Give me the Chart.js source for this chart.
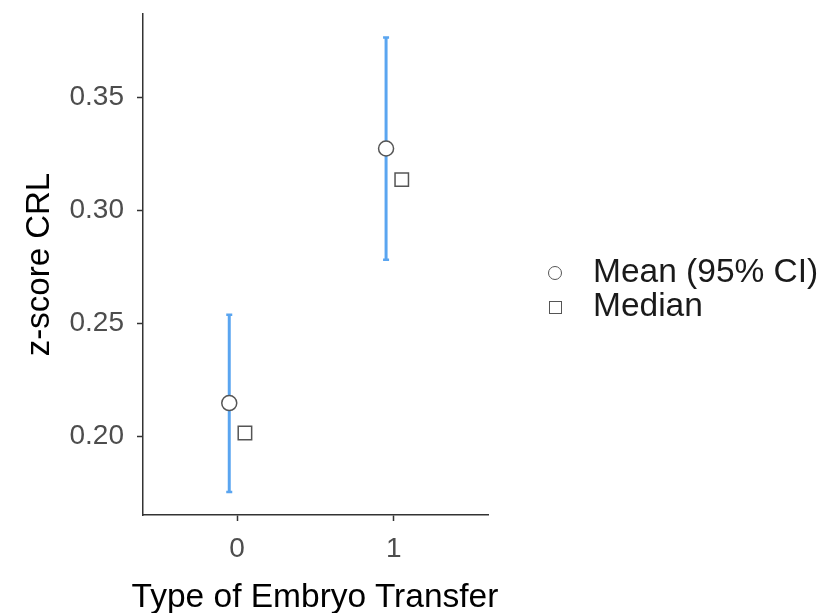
<!DOCTYPE html>
<html>
<head>
<meta charset="utf-8">
<script src="https://cdn.jsdelivr.net/npm/chart.js@4/dist/chart.umd.min.js"></script>
<style>
  html, body { margin: 0; padding: 0; background: #fff; }
  #wrap { position: relative; width: 822px; height: 613px; font-family: "Liberation Sans", Arial, sans-serif; }
  .leg { position: absolute; left: 544px; font-size: 33.5px; color: #1a1a1a; line-height: 34px; white-space: nowrap; }
  .key { display: inline-block; box-sizing: border-box; border: 1.5px solid #555; background: #fff;
         vertical-align: middle; }
  .key.circ { width: 14px; height: 14px; border-radius: 50%; margin-left: 4px; margin-right: 31px; }
  .key.sq { width: 13px; height: 13px; margin-left: 5px; margin-right: 31px; }
  #xtitle { position: absolute; left: 0; width: 630px; text-align: center; top: 578px;
            font-size: 33.5px; line-height: 36px; color: #000; white-space: nowrap; }
</style>
</head>
<body>
<div id="wrap">
  <canvas id="myChart" width="822" height="613"></canvas>
  <div id="xtitle">Type of Embryo Transfer</div>
  <div class="leg" style="top:254px"><span class="key circ"></span>Mean (95% CI)</div>
  <div class="leg" style="top:288px"><span class="key sq"></span>Median</div>
</div>
<script>
// groups on the x axis
var categories = [0, 1];
var xTickLabels = ['0', '1'];
var yTickValues = [0.20, 0.25, 0.30, 0.35];

// values
var meanVals = [0.2146, 0.3274];
var ciLow = [0.1752, 0.2781];
var ciHigh = [0.2537, 0.3766];
var medianVals = [0.2013, 0.3136];

var dodge = 0.05;
var ciColor = '#5aa5f0';

function makePoints(vals, shift) {
    var pts = [];
    for (var i = 0; i < categories.length; i++) {
        pts.push({x: categories[i] + shift, y: vals[i]});
    }
    return pts;
}

// draws the 95% CI bars under the mean markers
var errorBars = {
    id: 'errorBars',
    beforeDatasetsDraw: function(chart) {
        var ctx = chart.ctx;
        var xs = chart.scales.x, ys = chart.scales.y;
        ctx.save();
        ctx.strokeStyle = ciColor;
        for (var i = 0; i < categories.length; i++) {
            var px = xs.getPixelForValue(categories[i] - dodge);
            var top = ys.getPixelForValue(ciHigh[i]);
            var bot = ys.getPixelForValue(ciLow[i]);
            ctx.lineWidth = 3;
            ctx.beginPath();
            ctx.moveTo(px, top);
            ctx.lineTo(px, bot);
            ctx.stroke();
            ctx.lineWidth = 2.5;
            ctx.beginPath();
            ctx.moveTo(px - 3, top); ctx.lineTo(px + 3, top);
            ctx.moveTo(px - 3, bot); ctx.lineTo(px + 3, bot);
            ctx.stroke();
        }
        ctx.restore();
    }
};

var fontFam = '"Liberation Sans", Arial, sans-serif';

var myChart = new Chart('myChart', {
    type: 'scatter',
    data: {
        datasets: [{
            label: 'Mean (95% CI)',
            data: makePoints(meanVals, -dodge),
            pointStyle: 'circle',
            pointRadius: 7.5,
            pointBorderWidth: 1.5,
            borderColor: '#555',
            backgroundColor: '#fff'
        }, {
            label: 'Median',
            data: makePoints(medianVals, dodge),
            pointStyle: 'rect',
            pointRadius: 9.5,
            pointBorderWidth: 1.5,
            borderColor: '#555',
            backgroundColor: '#fff'
        }]
    },
    options: {
        responsive: false,
        animation: false,
        layout: { padding: { top: 14, right: 334, left: 0, bottom: 0 } },
        plugins: { legend: { display: false }, tooltip: { enabled: false } },
        scales: {
            x: {
                type: 'linear',
                min: -0.6,
                max: 1.6,
                afterBuildTicks: function(axis) {
                    axis.ticks = categories.map(function(c) { return {value: c}; });
                },
                afterFit: function(axis) {
                    axis.height = 98;
                    axis.paddingLeft = 0;
                    axis.paddingRight = 0;
                },
                grid: { drawOnChartArea: false, drawTicks: true, tickLength: 6, tickColor: '#333', tickWidth: 1.5 },
                border: { display: true, color: '#333', width: 1.5 },
                ticks: {
                    padding: 11,
                    color: '#4d4d4d',
                    font: { family: fontFam, size: 28 },
                    callback: function(v) { return xTickLabels[categories.indexOf(v)]; }
                },
                title: { display: false }
            },
            y: {
                min: 0.165,
                max: 0.387,
                afterBuildTicks: function(axis) {
                    axis.ticks = yTickValues.map(function(v) { return {value: v}; });
                },
                afterFit: function(axis) {
                    axis.width = 143;
                    axis.paddingTop = 0;
                    axis.paddingBottom = 0;
                },
                grid: { drawOnChartArea: false, drawTicks: true, tickLength: 6, tickColor: '#333', tickWidth: 1.5 },
                border: { display: true, color: '#333', width: 1.5 },
                ticks: {
                    padding: 13,
                    color: '#4d4d4d',
                    font: { family: fontFam, size: 28 },
                    callback: function(v) { return v.toFixed(2); }
                },
                title: {
                    display: true,
                    text: 'z-score CRL',
                    color: '#000',
                    font: { family: fontFam, size: 33, lineHeight: 1 },
                    padding: { top: 23, bottom: 0 }
                }
            }
        }
    },
    plugins: [errorBars]
});
</script>
</body>
</html>
